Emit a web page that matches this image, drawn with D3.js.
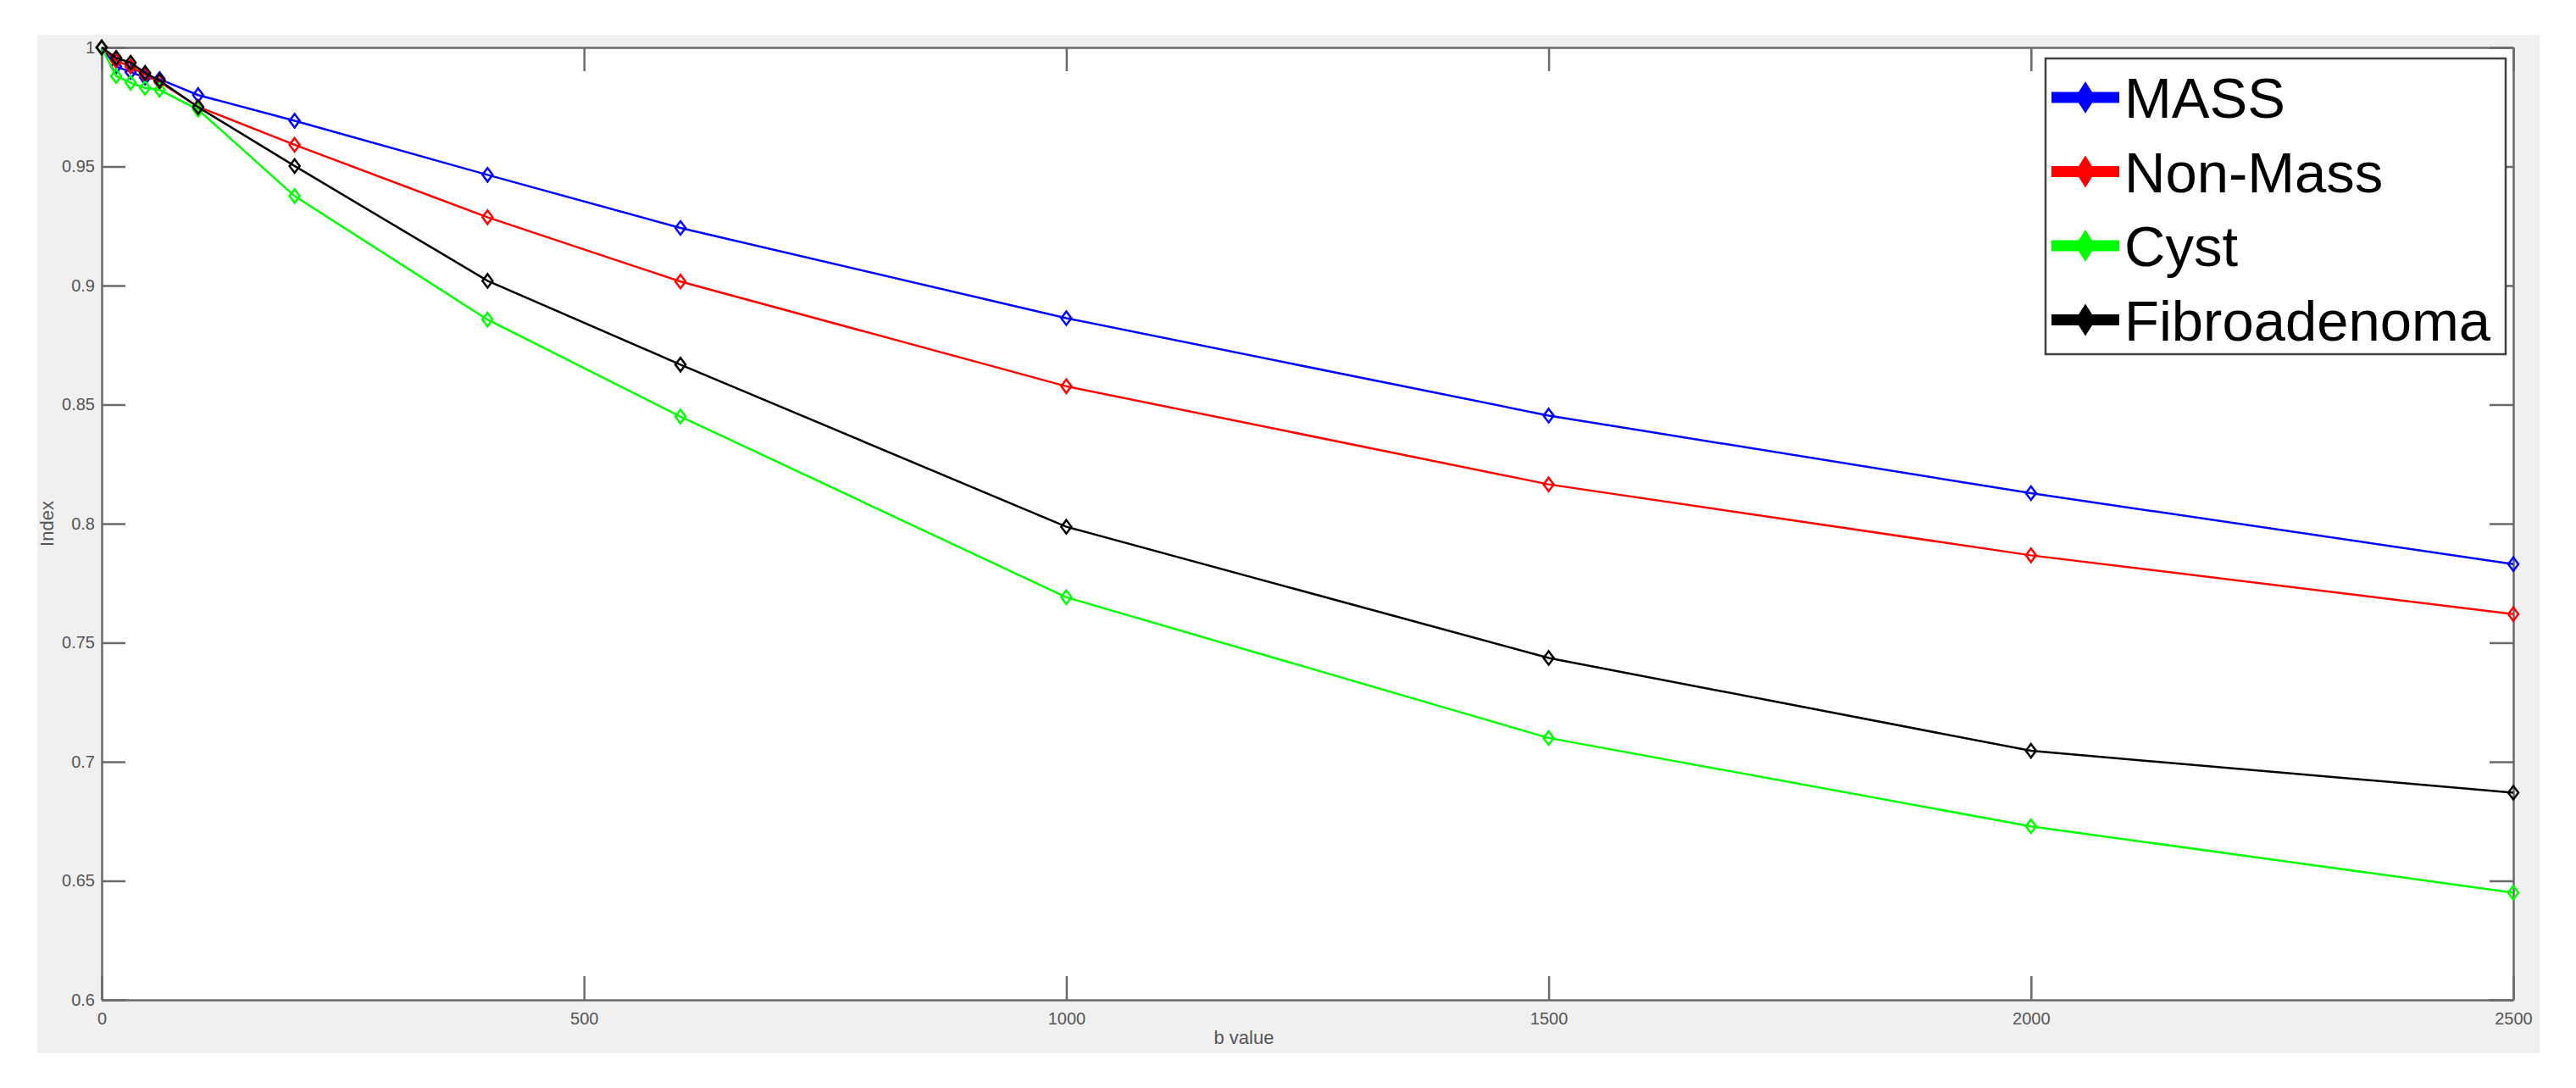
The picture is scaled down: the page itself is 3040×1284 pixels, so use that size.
<!DOCTYPE html>
<html>
<head>
<meta charset="utf-8">
<script src="https://cdn.jsdelivr.net/npm/d3@7"></script>
<style>
  body { margin: 0; background: #fff; }
  svg { display: block; }
</style>
</head>
<body>
<div id="chart"></div>
<script>
// data
const bValues = [0, 15, 30, 45, 60, 100, 200, 400, 600, 1000, 1500, 2000, 2500];
const massIdx = [1, 0.992, 0.9897, 0.9873, 0.9867, 0.980, 0.9692, 0.9465, 0.9242, 0.8863, 0.8454, 0.8128, 0.783];
const nonMassIdx = [1, 0.9944, 0.992, 0.9885, 0.9855, 0.9751, 0.9591, 0.9287, 0.9017, 0.8577, 0.8165, 0.7867, 0.762];
const cystIdx = [1, 0.988, 0.9852, 0.983, 0.9822, 0.9739, 0.9376, 0.8857, 0.845, 0.7691, 0.710, 0.6729, 0.645];
const fibroIdx = [1, 0.9956, 0.9936, 0.9893, 0.9861, 0.9749, 0.9502, 0.902, 0.8668, 0.7987, 0.7436, 0.7046, 0.687];

const seriesNames = ["MASS", "Non-Mass", "Cyst", "Fibroadenoma"];
const seriesColors = ["#0000ff", "#ff0000", "#00ff00", "#000000"];
const xTicks = [0, 500, 1000, 1500, 2000, 2500];
const yTicks = [0.6, 0.65, 0.7, 0.75, 0.8, 0.85, 0.9, 0.95, 1];

const width = 3040;
const height = 1284;
const margin = {left: 120, right: 74, top: 56, bottom: 104};
const axisColor = "#6a6a6a";
const tickLen = 28;

const svg = d3.select("#chart")
  .append("svg")
  .attr("width", width)
  .attr("height", height);

// grey figure panel
svg.append("rect")
  .attr("x", 44).attr("y", 41)
  .attr("width", 2953).attr("height", 1202)
  .attr("fill", "#f0f0f0");

const xScale = d3.scaleLinear()
  .domain([0, 2500])
  .range([margin.left, width - margin.right]);

const yScale = d3.scaleLinear()
  .domain([0.6, 1])
  .range([height - margin.bottom, margin.top]);

// white plot area
svg.append("rect")
  .attr("x", xScale(0)).attr("y", yScale(1))
  .attr("width", xScale(2500) - xScale(0))
  .attr("height", yScale(0.6) - yScale(1))
  .attr("fill", "#fff");

const fmtY = d => d === 1 ? "1" : String(+d.toFixed(2));

const styleAxis = g => {
  g.selectAll("path, line").attr("stroke", axisColor).attr("stroke-width", 2.5);
  g.selectAll("text")
    .attr("fill", "#555")
    .attr("font-family", "Liberation Sans, Arial, sans-serif")
    .attr("font-size", 20);
};

svg.append("g")
  .attr("transform", `translate(0, ${yScale(0.6)})`)
  .call(d3.axisBottom(xScale).tickValues(xTicks).tickSizeInner(-tickLen).tickSizeOuter(0)
    .tickPadding(15).tickFormat(d3.format("d")))
  .call(styleAxis);

svg.append("g")
  .attr("transform", `translate(0, ${yScale(1)})`)
  .call(d3.axisTop(xScale).tickValues(xTicks).tickSizeInner(-tickLen).tickSizeOuter(0).tickFormat(""))
  .call(styleAxis);

svg.append("g")
  .attr("transform", `translate(${xScale(0)}, 0)`)
  .call(d3.axisLeft(yScale).tickValues(yTicks).tickSizeInner(-tickLen).tickSizeOuter(0)
    .tickPadding(8).tickFormat(fmtY))
  .call(styleAxis);

svg.append("g")
  .attr("transform", `translate(${xScale(2500)}, 0)`)
  .call(d3.axisRight(yScale).tickValues(yTicks).tickSizeInner(-tickLen).tickSizeOuter(0).tickFormat(""))
  .call(styleAxis);

// axis titles
svg.append("text")
  .attr("x", 1468)
  .attr("y", 1232)
  .attr("text-anchor", "middle")
  .attr("font-family", "Liberation Sans, Arial, sans-serif")
  .attr("font-size", 22)
  .attr("fill", "#555")
  .text("b value");

svg.append("text")
  .attr("transform", `translate(63, ${(yScale(0.6) + yScale(1)) / 2}) rotate(-90)`)
  .attr("text-anchor", "middle")
  .attr("font-family", "Liberation Sans, Arial, sans-serif")
  .attr("font-size", 22)
  .attr("fill", "#555")
  .text("Index");

// series
const allSeries = [massIdx, nonMassIdx, cystIdx, fibroIdx];
const diamond = (hw, hh) => `M0,${-hh}L${hw},0L0,${hh}L${-hw},0Z`;

const line = d3.line()
  .x((d, i) => xScale(bValues[i]))
  .y(d => yScale(d));

allSeries.forEach((vals, k) => {
  const g = svg.append("g");
  g.append("path")
    .datum(vals)
    .attr("d", line)
    .attr("fill", "none")
    .attr("stroke", seriesColors[k])
    .attr("stroke-width", 2.5);

  g.selectAll("path.marker")
    .data(vals)
    .enter()
    .append("path")
      .attr("class", "marker")
      .attr("d", diamond(6, 8))
      .attr("transform", (d, i) => `translate(${xScale(bValues[i])}, ${yScale(d)})`)
      .attr("fill", "none")
      .attr("stroke", seriesColors[k])
      .attr("stroke-width", 2.5);
});

// legend
const legend = svg.append("g");
legend.append("rect")
  .attr("x", 2414).attr("y", 69)
  .attr("width", 543).attr("height", 349)
  .attr("fill", "#fff")
  .attr("stroke", "#404040")
  .attr("stroke-width", 2.5);

seriesNames.forEach((name, k) => {
  const y = 115 + k * 87.5;
  legend.append("line")
    .attr("x1", 2421).attr("x2", 2501)
    .attr("y1", y).attr("y2", y)
    .attr("stroke", seriesColors[k])
    .attr("stroke-width", 13);
  legend.append("path")
    .attr("d", diamond(12, 19))
    .attr("transform", `translate(2461, ${y})`)
    .attr("fill", seriesColors[k]);
  legend.append("text")
    .attr("x", 2507)
    .attr("y", y)
    .attr("dy", "0.36em")
    .attr("font-family", "Liberation Sans, Arial, sans-serif")
    .attr("font-size", 67)
    .attr("fill", "#000")
    .text(name);
});
</script>
</body>
</html>
